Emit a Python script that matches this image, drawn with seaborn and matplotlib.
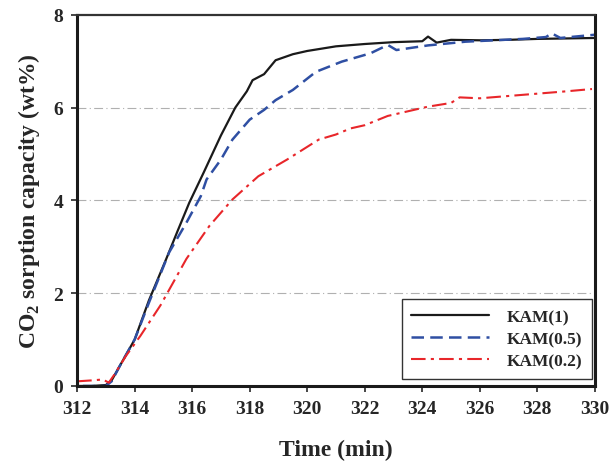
import numpy as np
import matplotlib
matplotlib.use("Agg")
import matplotlib.pyplot as plt
import seaborn as sb

# KAM(1)
time_k1 = [312.0, 312.5, 313.0, 313.2, 313.5, 314.0, 314.5, 315.1, 315.5, 315.9,
           316.4, 317.0, 317.5, 317.9, 318.1, 318.5, 318.9, 319.5, 320.0, 321.0,
           322.0, 323.0, 324.0, 324.2, 324.5, 325.0, 326.0, 327.0, 328.0, 329.0, 330.0]
k1 = [0.0, 0.0, 0.02, 0.12, 0.45, 1.0, 1.85, 2.74, 3.35, 3.95,
      4.6, 5.4, 6.0, 6.35, 6.59, 6.72, 7.02, 7.15, 7.22, 7.32,
      7.37, 7.41, 7.43, 7.53, 7.40, 7.46, 7.45, 7.46, 7.48, 7.49, 7.5]

# KAM(0.5)
time_k05 = [312.2, 312.6, 313.0, 313.2, 313.5, 314.0, 314.5, 315.2, 315.8, 316.3,
            316.5, 317.0, 317.4, 318.0, 318.5, 318.9, 319.5, 320.3, 321.2, 322.2,
            322.8, 323.1, 324.2, 325.5, 326.5, 327.5, 328.3, 328.5, 328.8, 330.0]
k05 = [0.0, 0.0, 0.0, 0.1, 0.45, 1.0, 1.8, 2.88, 3.52, 4.09,
       4.45, 4.88, 5.31, 5.74, 5.95, 6.16, 6.38, 6.77, 6.99, 7.17,
       7.35, 7.24, 7.34, 7.42, 7.45, 7.48, 7.52, 7.6, 7.5, 7.57]

# KAM(0.2)
time_k02 = [312.0, 312.5, 312.9, 313.1, 313.3, 313.7, 314.2, 314.9, 315.8, 316.6,
            317.4, 318.3, 319.3, 320.4, 321.0, 321.5, 322.0, 322.8, 323.5, 324.2,
            324.7, 325.0, 325.3, 326.0, 327.0, 328.0, 329.0, 329.9]
k02 = [0.1, 0.12, 0.14, 0.07, 0.25, 0.65, 1.08, 1.74, 2.74, 3.45,
       4.02, 4.52, 4.88, 5.31, 5.42, 5.55, 5.62, 5.82, 5.92, 6.02,
       6.07, 6.1, 6.22, 6.2, 6.25, 6.3, 6.35, 6.4]

sb.set_style("white")
plt.rcParams['font.family'] = ['Liberation Serif', 'DejaVu Serif']
plt.rcParams['font.weight'] = 'bold'
plt.rcParams['mathtext.fontset'] = 'custom'
plt.rcParams['mathtext.rm'] = 'Liberation Serif:bold'
plt.rcParams['mathtext.bf'] = 'Liberation Serif:bold'

fig = plt.figure(figsize=(6.12, 4.64), dpi=100)
ax = fig.add_axes([0.126, 0.166, 0.846, 0.800])

for y in [2, 4, 6]:
    ax.axhline(y, color='#b0b0b0', lw=0.8, ls=(0, (8, 3, 1, 3)), zorder=0)

sb.lineplot(x=time_k1, y=k1, ax=ax, color='#1a1a1a', lw=1.6, label='KAM(1)')
sb.lineplot(x=time_k05, y=k05, ax=ax, color='#2f4fa3', lw=1.8,
            linestyle=(0, (5, 2.5)), label='KAM(0.5)')
sb.lineplot(x=time_k02, y=k02, ax=ax, color='#e8262a', lw=1.5,
            linestyle=(0, (7, 2.5, 1.5, 2.5)), label='KAM(0.2)')

ax.set_xlim(312, 330)
ax.set_ylim(0, 8)
ax.set_xticks(np.arange(312, 331, 2))
ax.set_yticks([0, 2, 4, 6, 8])
ax.tick_params(axis='both', labelsize=14, direction='out', length=4, width=1.2,
               bottom=True, left=True, pad=6)
for lbl in ax.get_xticklabels() + ax.get_yticklabels():
    lbl.set_fontweight('bold')

for side in ['left', 'bottom', 'right']:
    ax.spines[side].set_linewidth(2.2)
    ax.spines[side].set_color('#1a1a1a')
ax.spines['top'].set_linewidth(1.6)
ax.spines['top'].set_color('#333333')

ax.set_xlabel('Time (min)', fontsize=17, fontweight='bold', labelpad=16)
ax.set_ylabel(r'CO$_\mathbf{2}$ sorption capacity (wt%)', fontsize=17,
              fontweight='bold', labelpad=8)

leg = ax.legend(loc='lower right', fontsize=12.5, handlelength=4.5,
                frameon=True, fancybox=False, borderpad=0.55, labelspacing=0.35,
                handletextpad=1.0, borderaxespad=0,
                bbox_to_anchor=(0.994, 0.019))
leg.get_frame().set_edgecolor('black')
leg.get_frame().set_linewidth(1.0)
for t in leg.get_texts():
    t.set_fontweight('bold')

fig.savefig('out.png', dpi=100)
